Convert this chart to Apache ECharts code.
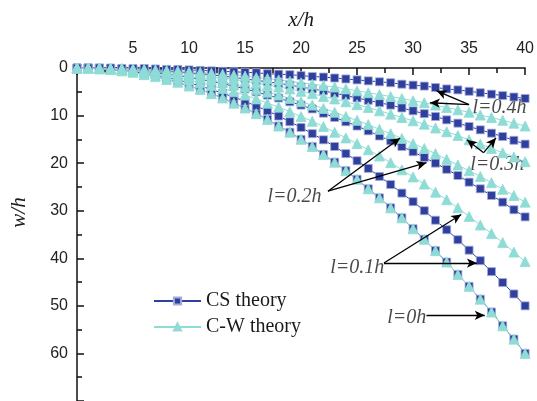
<!DOCTYPE html>
<html>
<head>
<meta charset="utf-8">
<script src="https://cdn.jsdelivr.net/npm/echarts@6/dist/echarts.min.js"></script>
<style>
html, body { margin: 0; padding: 0; background: #fff; }
#chart { width: 537px; height: 401px; }
</style>
</head>
<body>
<div id="chart"></div>
<script>
// x/h positions of the markers
const xh = [0,1,2,3,4,5,6,7,8,9,10,11,12,13,14,15,16,17,18,19,20,
            21,22,23,24,25,26,27,28,29,30,31,32,33,34,35,36,37,38,39,40]

// w/h, CS theory
const cs0 = [0,0,0.2,0.3,0.6,0.9,1.4,1.8,2.4,3,3.8,4.5,5.4,6.3,7.4,8.4,9.6,10.8,12.2,13.5,15,
             16.5,18.2,19.8,21.6,23.4,25.4,27.3,29.4,31.5,33.8,36,38.4,40.8,43.4,45.9,48.6,51.3,54.2,57,60]
const cs1 = [0,0,0.1,0.3,0.5,0.8,1.1,1.5,2,2.5,3.1,3.8,4.5,5.3,6.1,7,8,9,10.1,11.3,12.5,
             13.8,15.1,16.5,18,19.5,21.1,22.8,24.5,26.3,28.1,30,32,34,36.1,38.3,40.5,42.8,45.1,47.5,50]
const cs2 = [0,0,0.1,0.2,0.3,0.5,0.7,1,1.3,1.6,2,2.4,2.8,3.3,3.8,4.4,5,5.7,6.3,7.1,7.8,
             8.6,9.5,10.4,11.3,12.2,13.2,14.3,15.3,16.5,17.6,18.8,20,21.3,22.6,24,25.4,26.8,28.2,29.8,31.3]
const cs3 = [0,0,0,0.1,0.2,0.3,0.4,0.5,0.6,0.8,1,1.2,1.4,1.7,2,2.3,2.6,2.9,3.2,3.6,4,
             4.4,4.8,5.3,5.8,6.3,6.8,7.3,7.8,8.4,9,9.6,10.2,10.9,11.6,12.3,13,13.7,14.4,15.2,16]
const cs4 = [0,0,0,0,0.1,0.1,0.1,0.2,0.3,0.3,0.4,0.5,0.6,0.7,0.8,0.9,1,1.2,1.3,1.4,1.6,
             1.8,1.9,2.1,2.3,2.5,2.7,2.9,3.1,3.4,3.6,3.8,4.1,4.4,4.6,4.9,5.2,5.5,5.8,6.1,6.4]

// w/h, C-W theory
const cw0 = [0,0,0.2,0.3,0.6,0.9,1.4,1.8,2.4,3,3.8,4.5,5.4,6.3,7.4,8.4,9.6,10.8,12.2,13.5,15,
             16.5,18.2,19.8,21.6,23.4,25.4,27.3,29.4,31.5,33.8,36,38.4,40.8,43.4,45.9,48.6,51.3,54.2,57,60]
const cw1 = [0,0,0.1,0.2,0.4,0.6,0.9,1.2,1.6,2.1,2.5,3.1,3.7,4.3,5,5.7,6.5,7.4,8.2,9.2,10.2,
             11.2,12.3,13.5,14.7,15.9,17.2,18.5,19.9,21.4,22.9,24.4,26.1,27.7,29.4,31.2,33,34.8,36.7,38.7,40.7]
const cw2 = [0,0,0.1,0.2,0.3,0.4,0.6,0.9,1.1,1.4,1.8,2.1,2.5,3,3.5,4,4.5,5.1,5.7,6.4,7.1,
             7.8,8.5,9.3,10.2,11,11.9,12.9,13.8,14.8,15.9,16.9,18,19.2,20.4,21.6,22.8,24.1,25.5,26.8,28.2]
const cw3 = [0,0,0,0.1,0.2,0.3,0.4,0.6,0.8,1,1.2,1.5,1.8,2.1,2.4,2.8,3.2,3.6,4,4.4,4.9,
             5.4,6,6.5,7.1,7.7,8.3,9,9.7,10.4,11.1,11.8,12.6,13.4,14.2,15.1,16,16.9,17.8,18.7,19.7]
const cw4 = [0,0,0,0.1,0.1,0.2,0.3,0.4,0.5,0.6,0.8,0.9,1.1,1.3,1.5,1.7,2,2.2,2.5,2.8,3.1,
             3.4,3.7,4,4.4,4.8,5.2,5.6,6,6.4,6.9,7.3,7.8,8.3,8.8,9.3,9.9,10.4,11,11.6,12.2]

// annotation labels (left edge, centre) and arrows [from x, from w, to x, to w]
const noteText = ['l=0.4h', 'l=0.3h', 'l=0.2h', 'l=0.1h', 'l=0h']
const noteX = [35.3, 35.1, 17.0, 22.6, 27.7]
const noteW = [8.4, 20.3, 27.0, 41.9, 52.5]
const arrows = [
    [35.0, 7.7, 32.1, 4.8], [35.0, 7.7, 31.5, 7.3],
    [36.3, 17.8, 34.8, 15.1], [36.3, 17.8, 37.4, 14.7],
    [22.4, 25.9, 28.85, 14.7], [22.4, 25.9, 31.2, 19.9],
    [27.4, 41.0, 34.3, 30.8], [27.4, 41.0, 35.7, 41.0],
    [31.2, 52.0, 36.4, 52.0]
]

const csColor = '#2f3f9e'
const cwColor = '#8edcd5'
const serif = '"Liberation Serif", "Times New Roman", serif'
const sans = '"Liberation Sans", Arial, sans-serif'

function makeSeries(name, values, symbol, size, color, border) {
    return {
        name: name,
        type: 'line',
        data: values.map((v, i) => [xh[i], v]),
        symbol: symbol,
        symbolSize: size,
        showSymbol: true,
        lineStyle: { color: color, width: 1 },
        itemStyle: { color: color, borderColor: border, borderWidth: 0.8 },
        emphasis: { disabled: true },
        animation: false
    }
}

let series = []
for (let vals of [cs0, cs1, cs2, cs3, cs4]) {
    series.push(makeSeries('CS theory', vals, 'rect', 8, csColor, '#a3abd9'))
}
for (let vals of [cw0, cw1, cw2, cw3, cw4]) {
    series.push(makeSeries('C-W theory', vals, 'triangle', 10, cwColor, cwColor))
}

series.push({
    type: 'scatter',
    data: noteText.map((t, i) => ({ value: [noteX[i], noteW[i]], name: t })),
    symbolSize: 0,
    silent: true,
    animation: false,
    label: {
        show: true,
        position: 'right',
        distance: 0,
        formatter: p => p.name,
        fontFamily: serif,
        fontStyle: 'italic',
        fontSize: 20,
        color: '#1a1a1a'
    },
    markLine: {
        silent: true,
        animation: false,
        symbol: ['none', 'arrow'],
        symbolSize: [7, 10],
        label: { show: false },
        lineStyle: { color: '#000', width: 1.3, type: 'solid' },
        data: arrows.map(a => [{ coord: [a[0], a[1]] }, { coord: [a[2], a[3]] }])
    }
})

let chart = echarts.init(document.getElementById('chart'))

option = {
    animation: false,
    backgroundColor: '#fff',
    grid: { left: 77, right: 8, top: 68, bottom: -6, containLabel: false },
    legend: {
        data: ['CS theory', 'C-W theory'],
        orient: 'vertical',
        left: 148,
        top: 286,
        itemWidth: 47,
        itemHeight: 9,
        itemGap: 6,
        selectedMode: false,
        textStyle: { fontFamily: serif, fontSize: 20, color: '#1a1a1a', lineHeight: 20 }
    },
    xAxis: {
        type: 'value',
        position: 'top',
        min: 0,
        max: 40,
        interval: 5,
        name: 'x/h',
        nameLocation: 'middle',
        nameGap: 37,
        nameTextStyle: { fontFamily: serif, fontStyle: 'italic', fontSize: 21, color: '#1a1a1a' },
        axisLine: { show: true, lineStyle: { color: '#111', width: 1.5 } },
        axisTick: { show: true, inside: true, length: 7, lineStyle: { color: '#111', width: 1.5 } },
        minorTick: { show: true, splitNumber: 2, length: 5, lineStyle: { color: '#111', width: 1.5 } },
        axisLabel: { showMinLabel: false, margin: 11, fontFamily: sans, fontSize: 16, color: '#222' },
        splitLine: { show: false }
    },
    yAxis: {
        type: 'value',
        inverse: true,
        min: 0,
        max: 70,
        interval: 10,
        name: 'w/h',
        nameLocation: 'middle',
        nameGap: 47,
        nameTextStyle: { fontFamily: serif, fontStyle: 'italic', fontSize: 21, color: '#1a1a1a', padding: [0, 0, 0, 44] },
        axisLine: { show: true, lineStyle: { color: '#111', width: 1.5 } },
        axisTick: { show: true, inside: true, length: 7, lineStyle: { color: '#111', width: 1.5 } },
        minorTick: { show: true, splitNumber: 2, length: 5, lineStyle: { color: '#111', width: 1.5 } },
        axisLabel: { showMaxLabel: false, margin: 9, fontFamily: sans, fontSize: 16, color: '#222' },
        splitLine: { show: false }
    },
    series: series
}
chart.setOption(option)
</script>
</body>
</html>
